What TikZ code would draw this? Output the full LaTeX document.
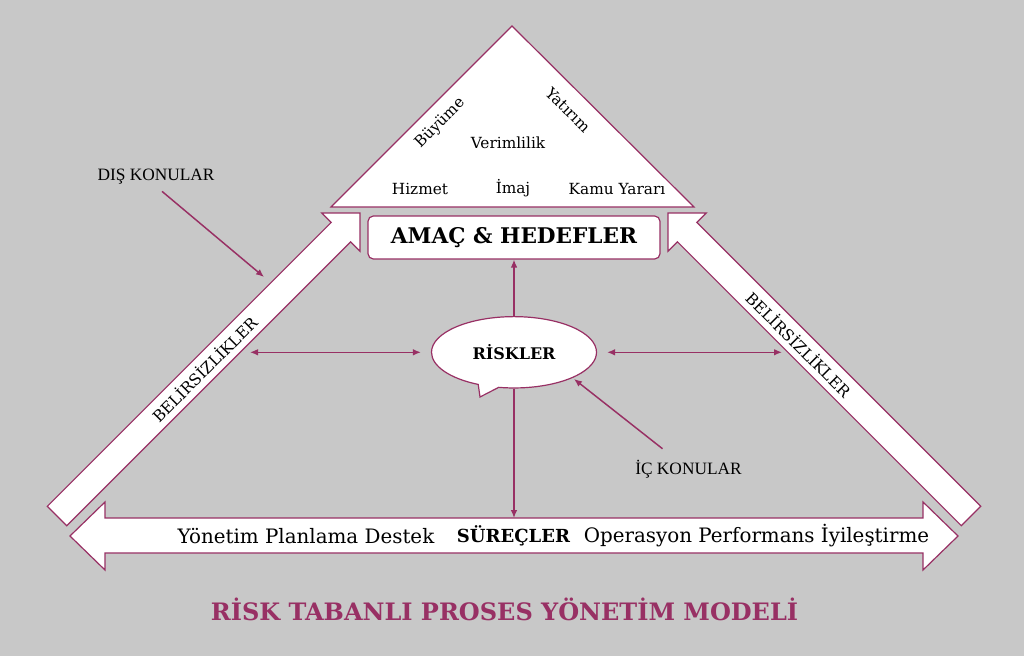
\documentclass[tikz,border=0pt]{standalone}
\usepackage{fontspec}
\setmainfont{DejaVu Serif}
\newfontfamily\timesfont{Liberation Serif}
\usetikzlibrary{arrows.meta,shapes.callouts}
\definecolor{bordo}{RGB}{152,48,100}
\definecolor{zemin}{RGB}{200,200,200}

\begin{document}
\begin{tikzpicture}[x=0.75pt,y=-0.75pt,>={Latex[length=6pt,width=5pt]},
  blok/.style={draw=bordo,fill=white,line width=0.9pt},
  ince/.style={draw=bordo,line width=1.1pt},
  yazi/.style={font=\fontsize{11.5}{13}\selectfont,inner sep=0pt},
  satir/.style={font=\fontsize{14.9}{17}\selectfont,inner sep=0pt},
  konu/.style={font=\timesfont\fontsize{13}{15}\selectfont,inner sep=0pt}]
  \fill[zemin] (0,0) rectangle (1024,656);
  \useasboundingbox (0,0) rectangle (1024,656);
  % ucgen ve icindekiler
  \draw[blok] (512,26) -- (331,207) -- (694,207) -- cycle;
  \node[yazi,rotate=45] (buyume) at (440,123) {Büyüme};
  \node[yazi,rotate=-45] (yatirim) at (568,110) {Yatırım};
  \node[yazi] (verim) at (508,143) {Verimlilik};
  \node[yazi] (hizmet) at (420,189) {Hizmet};
  \node[yazi] (imaj) at (513,188) {İmaj};
  \node[yazi] (kamu) at (617,189) {Kamu Yararı};
  % belirsizlik oklari
  \draw[blok] (47.3,506.3) -- (331.2,222.4) -- (321.8,213) -- (360,213) -- (360,251.2) -- (350.6,241.8) -- (66.7,525.7) -- cycle;
  \draw[blok] (980.7,506.3) -- (696.8,222.4) -- (706.2,213) -- (668,213) -- (668,251.2) -- (677.4,241.8) -- (961.3,525.7) -- cycle;
  \node[yazi,font=\fontsize{11.7}{13}\selectfont,rotate=45] (belirsiz1) at (204,369) {BELİRSİZLİKLER};
  \node[yazi,font=\fontsize{11.7}{13}\selectfont,rotate=-45] (belirsiz2) at (799,344) {BELİRSİZLİKLER};
  % surecler oku
  \draw[blok] (70,536) -- (105,502) -- (105,518) -- (923,518) -- (923,502) -- (958,536) -- (923,570) -- (923,553) -- (105,553) -- (105,570) -- cycle;
  \node[satir] (yonetim) at (306,536) {Yönetim Planlama Destek};
  \node[satir,font=\bfseries\fontsize{13.5}{16}\selectfont] (surecler) at (513.5,536) {SÜREÇLER};
  \node[satir] (operasyon) at (756.5,536) {Operasyon Performans İyileştirme};
  % amac ve riskler
  \node[blok,rounded corners=4pt,minimum width=219pt,minimum height=32.25pt,font=\bfseries\fontsize{16.2}{19}\selectfont] (amac) at (514,237.5) {AMAÇ \& HEDEFLER};
  \node[blok,ellipse callout,minimum width=123.75pt,minimum height=53.5pt,callout absolute pointer={(480,397)},font=\bfseries\fontsize{12}{14}\selectfont] (risk) at (514,352.3) {RİSKLER};
  \coordinate (surec) at (514,518);
  \coordinate (solic) at (250,352.3);
  \coordinate (sagic) at (782,352.3);
  \draw[ince,->] (risk.north) -- (amac.south);
  \draw[ince,->] (risk.south) -- (surec);
  \draw[ince,<->] (solic) -- ([xshift=-7.5pt]risk.west);
  \draw[ince,<->] ([xshift=7.5pt]risk.east) -- (sagic);
  % dis ve ic konular
  \node[konu] (dis) at (156,176.5) {DIŞ KONULAR};
  \node[konu] (ic) at (688.5,469) {İÇ KONULAR};
  \coordinate (disuc) at (264,277);
  \coordinate (icuc) at (574,379);
  \draw[ince,->] ([shift={(6,7)}]dis.south) -- (disuc);
  \draw[ince,->] ([shift={(-26,-11)}]ic.north) -- (icuc);
  % baslik
  \node[font=\bfseries\fontsize{18}{21}\selectfont,text=bordo] (baslik) at (504.5,609) {RİSK TABANLI PROSES YÖNETİM MODELİ};
\end{tikzpicture}
\end{document}
